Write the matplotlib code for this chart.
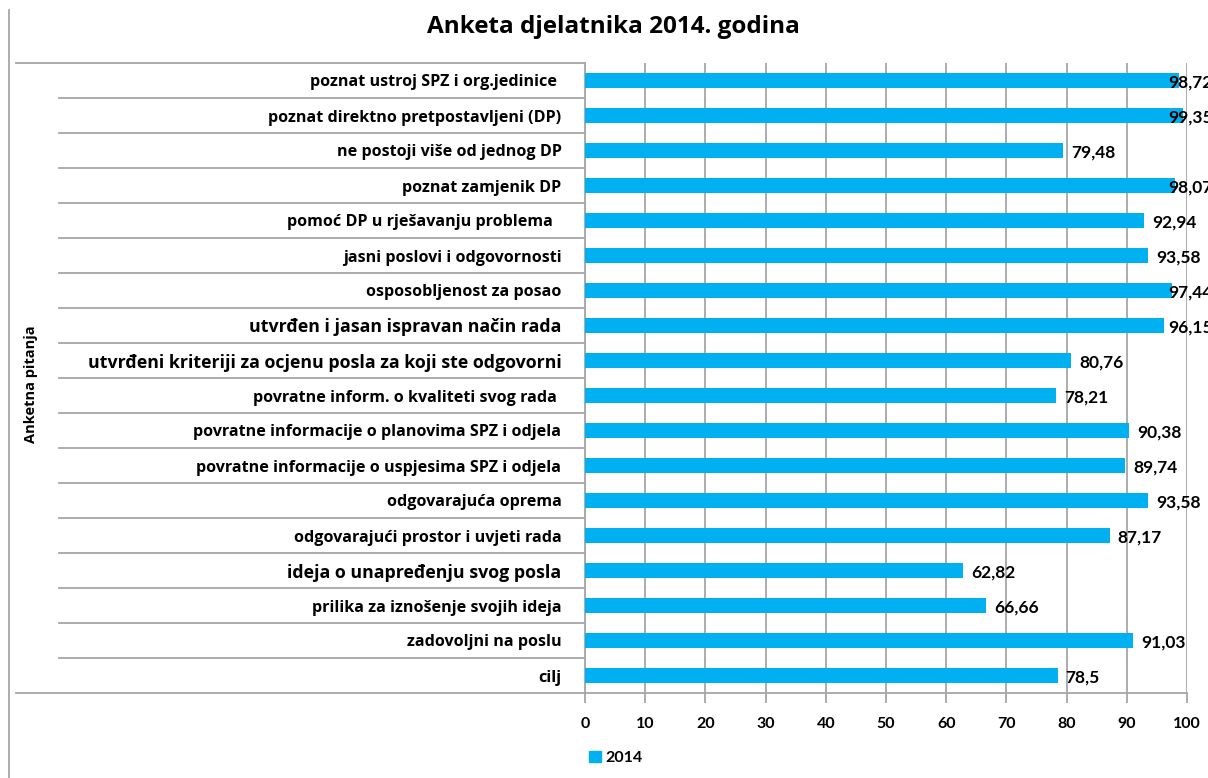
import matplotlib
matplotlib.use("Agg")
import matplotlib.pyplot as plt
from matplotlib.lines import Line2D
from matplotlib.patches import Patch
import matplotlib.transforms as mtrans
import numpy as np

plt.rcParams['font.family'] = ['Lato', 'DejaVu Sans']
LABEL_FONT = ['Open Sans', 'DejaVu Sans']

categories = [
    "poznat ustroj SPZ i org.jedinice ",
    "poznat direktno pretpostavljeni (DP)",
    "ne postoji više od jednog DP",
    "poznat zamjenik DP",
    "pomoć DP u rješavanju problema  ",
    "jasni poslovi i odgovornosti",
    "osposobljenost za posao",
    "utvrđen i jasan ispravan način rada",
    "utvrđeni kriteriji za ocjenu posla za koji ste odgovorni",
    "povratne inform. o kvaliteti svog rada ",
    "povratne informacije o planovima SPZ i odjela",
    "povratne informacije o uspjesima SPZ i odjela",
    "odgovarajuća oprema",
    "odgovarajući prostor i uvjeti rada",
    "ideja o unapređenju svog posla",
    "prilika za iznošenje svojih ideja",
    "zadovoljni na poslu",
    "cilj",
]
values_2014 = [98.72, 99.35, 79.48, 98.07, 92.94, 93.58, 97.44, 96.15, 80.76,
               78.21, 90.38, 89.74, 93.58, 87.17, 62.82, 66.66, 91.03, 78.5]
large_labels = {7, 8, 14}
series_name = "2014"
title = "Anketa djelatnika 2014. godina"
axis_title = "Anketna pitanja"
x_ticks = list(range(0, 101, 10))

W, H = 1208, 778
fig = plt.figure(figsize=(W / 100, H / 100), dpi=100)
ax = fig.add_axes([585 / W, 1 - 693 / H, (1187 - 585) / W, (693 - 63) / H])

bar_color = "#00B0F0"
grid_color = "#A6A6A6"
n = len(categories)
y = np.arange(n)
ax.barh(y, values_2014, height=0.42, color=bar_color, zorder=3)
ax.set_xlim(0, 100)
ax.set_ylim(n - 0.5, -0.5)

ax.set_xticks(x_ticks)
ax.set_xticklabels([str(t) for t in x_ticks], fontsize=11.5, fontweight='bold')
ax.xaxis.grid(True, color=grid_color, linewidth=1.3, zorder=0)
ax.tick_params(axis='x', length=7, width=1.3, color=grid_color, pad=10)

ax.set_yticks(y)
ax.set_yticklabels(categories)
for i, lab in enumerate(ax.get_yticklabels()):
    lab.set_family(LABEL_FONT)
    lab.set_fontweight('bold')
    lab.set_fontsize(12.8 if i in large_labels else 11.6)
ax.tick_params(axis='y', length=0, pad=17)

for s in ['top', 'right']:
    ax.spines[s].set_visible(False)
ax.spines['left'].set_color(grid_color)
ax.spines['left'].set_linewidth(1.3)
ax.spines['bottom'].set_color(grid_color)
ax.spines['bottom'].set_linewidth(1.3)

# value labels (pushed left near the right edge, as in the source)
px_per_unit = (1187 - 585) / 100
for yi, v in zip(y, values_2014):
    txt = ("%g" % v).replace('.', ',')
    xl = min(v + 8 / px_per_unit, 96.85)
    ax.text(xl, yi + 0.06, txt, va='center', ha='left', fontsize=12.5,
            fontweight='bold', clip_on=False, zorder=4)

# multi-level category separator lines
blend = mtrans.blended_transform_factory(fig.transFigure, ax.transData)
for k in range(1, n):
    fig.add_artist(Line2D([59 / W, 585 / W], [k - 0.5, k - 0.5], transform=blend,
                          color=grid_color, linewidth=1.3))
fig.add_artist(Line2D([16 / W, 585 / W], [-0.5, -0.5], transform=blend,
                      color=grid_color, linewidth=1.3))
fig.add_artist(Line2D([16 / W, 585 / W], [n - 0.5, n - 0.5], transform=blend,
                      color=grid_color, linewidth=1.3))

# chart area left border
fig.add_artist(Line2D([9 / W, 9 / W], [1 - 10 / H, 0], transform=fig.transFigure,
                      color=grid_color, linewidth=1.3))

fig.text(31 / W, 1 - 384 / H, axis_title, rotation=90, ha='center', va='center',
         fontsize=10.5, fontweight='bold', family=LABEL_FONT)
fig.text(613 / W, 1 - 27 / H, title, ha='center', va='center',
         fontsize=17.5, fontweight='bold', family=LABEL_FONT)

leg = fig.legend(handles=[Patch(color=bar_color, label=series_name)],
                 loc='center left', bbox_to_anchor=(583 / W, 1 - 758 / H),
                 frameon=False, fontsize=11.5, handlelength=0.7, handleheight=0.7,
                 handletextpad=0.3, borderaxespad=0)
for t in leg.get_texts():
    t.set_fontweight('bold')

fig.savefig("out.png", dpi=100)
